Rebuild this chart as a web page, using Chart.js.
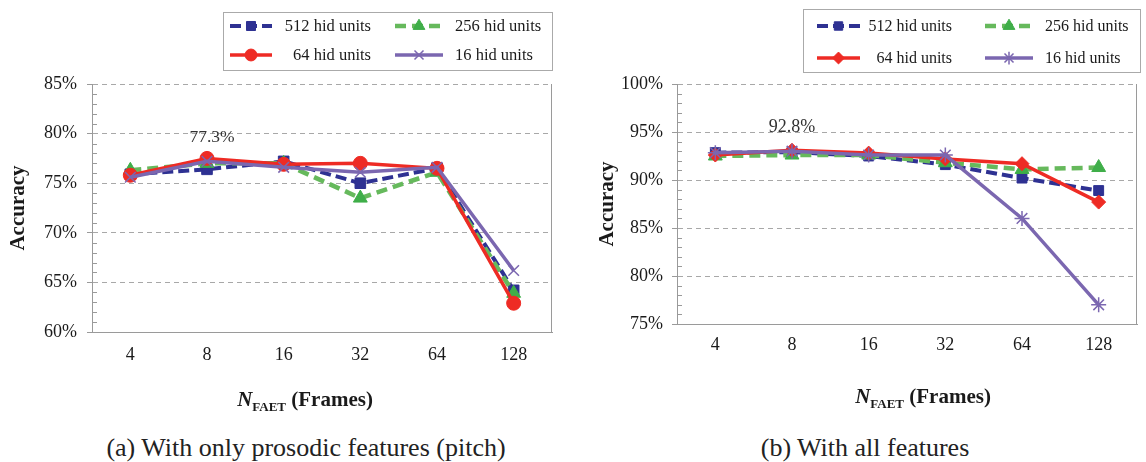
<!DOCTYPE html>
<html>
<head>
<meta charset="utf-8">
<script src="https://cdn.jsdelivr.net/npm/chart.js@4.4.1/dist/chart.umd.min.js"></script>
<style>
  body { margin: 0; background: #fff; width: 1146px; height: 462px; position: relative; overflow: hidden; }
  canvas { position: absolute; top: 0; }
  #chartPitch { left: 0; }
  #chartAll { left: 573px; }
  .cap { position: absolute; top: 435px; font-family: 'Liberation Serif', 'Times New Roman', serif; font-size: 26px;
         line-height: 26px; color: #222; white-space: nowrap; transform: translateX(-50%); }
</style>
</head>
<body>
<canvas id="chartPitch" width="573" height="420"></canvas>
<canvas id="chartAll" width="573" height="420"></canvas>
<div class="cap" style="left:306px">(a) With only prosodic features (pitch)</div>
<div class="cap" style="left:865px">(b) With all features</div>

<script>
// données
const frames = ['4', '8', '16', '32', '64', '128'];
const seriesNames = ['512 hid units', '256 hid units', '64 hid units', '16 hid units'];

// (a) prosodic features only
const pitch512 = [75.9, 76.4, 77.2, 75.0, 76.5, 64.2];
const pitch256 = [76.3, 77.0, 77.0, 73.5, 76.1, 63.9];
const pitch64  = [75.8, 77.5, 76.9, 77.0, 76.5, 62.9];
const pitch16  = [75.6, 77.2, 76.6, 76.1, 76.6, 66.2];

// (b) all features
const all512 = [92.85, 92.9, 92.5, 91.6, 90.2, 88.9];
const all256 = [92.5, 92.6, 92.6, 91.8, 91.1, 91.3];
const all64  = [92.6, 93.1, 92.8, 92.2, 91.7, 87.7];
const all16  = [92.85, 93.0, 92.6, 92.6, 86.0, 77.0];

const yTicksPitch = [60, 65, 70, 75, 80, 85];
const yTicksAll = [75, 80, 85, 90, 95, 100];

const FONT = "'Liberation Serif', 'Times New Roman', serif";

// styles des séries
const estilos = [
  { line: '#2e3192', fill: '#2e3192', width: 4,   dash: [11, 5], order: 3 },
  { line: '#66b95c', fill: '#3fae49', width: 4.5, dash: [11, 6], order: 2 },
  { line: '#ee2b24', fill: '#ee2b24', width: 3.5, dash: [],      order: 1 },
  { line: '#7b67b0', fill: '#7b67b0', width: 3.5, dash: [],      order: 0 }
];

function montaDatasets(valores, pontos) {
  return valores.map((data, i) => ({
    label: seriesNames[i],
    data,
    borderColor: estilos[i].line,
    backgroundColor: estilos[i].fill,
    borderWidth: estilos[i].width,
    borderDash: estilos[i].dash,
    order: estilos[i].order,
    tension: 0,
    pointStyle: pontos[i].style,
    pointRadius: pontos[i].r,
    pointBackgroundColor: estilos[i].fill,
    pointBorderColor: estilos[i].fill,
    pointBorderWidth: pontos[i].bw
  }));
}

// extras: cadre, petites graduations, titres, annotation, légende
const figExtras = {
  id: 'figExtras',
  afterDraw(chart, args, opts) {
    const ctx = chart.ctx;
    const a = chart.chartArea;
    const y = chart.scales.y;
    ctx.save();

    // bord droit
    ctx.strokeStyle = '#9a9a9a';
    ctx.lineWidth = 1;
    ctx.beginPath();
    ctx.moveTo(Math.round(a.right) - 0.5, a.top);
    ctx.lineTo(Math.round(a.right) - 0.5, a.bottom);
    ctx.stroke();

    // graduations mineures (1%)
    ctx.beginPath();
    for (let v = y.min; v <= y.max; v++) {
      if (v % 5 === 0) continue;
      const py = Math.round(y.getPixelForValue(v)) + 0.5;
      ctx.moveTo(a.left, py);
      ctx.lineTo(a.left + 5, py);
    }
    ctx.stroke();

    ctx.fillStyle = '#1a1a1a';

    // titre axe Y
    ctx.save();
    ctx.font = 'bold 21px ' + FONT;
    ctx.translate(opts.yTitleX, (a.top + a.bottom) / 2);
    ctx.rotate(-Math.PI / 2);
    ctx.textAlign = 'center';
    ctx.textBaseline = 'middle';
    ctx.fillText('Accuracy', 0, 0);
    ctx.restore();

    // titre axe X : N_FAET (Frames)
    const partes = [
      { t: 'N', f: 'italic bold 21px ' + FONT, dy: 0 },
      { t: 'FAET', f: 'bold 13px ' + FONT, dy: 5 },
      { t: ' (Frames)', f: 'bold 21px ' + FONT, dy: 0 }
    ];
    let total = 0;
    partes.forEach(p => { ctx.font = p.f; p.w = ctx.measureText(p.t).width; total += p.w; });
    let x0 = opts.xTitleX - total / 2;
    ctx.textAlign = 'left';
    ctx.textBaseline = 'alphabetic';
    partes.forEach(p => {
      ctx.font = p.f;
      ctx.fillText(p.t, x0, opts.xTitleY + p.dy);
      x0 += p.w;
    });

    // annotation de la meilleure valeur
    if (opts.note) {
      const pt = chart.getDatasetMeta(opts.note.ds).data[opts.note.i];
      ctx.font = opts.note.size + 'px ' + FONT;
      ctx.fillStyle = '#333';
      ctx.textAlign = 'center';
      ctx.textBaseline = 'middle';
      ctx.fillText(opts.note.text, pt.x + opts.note.dx, pt.y + opts.note.dy);
    }

    // légende encadrée 2x2
    const lg = opts.legend;
    ctx.strokeStyle = '#aaa';
    ctx.lineWidth = 1;
    ctx.strokeRect(lg.box[0] + 0.5, lg.box[1] + 0.5, lg.box[2], lg.box[3]);
    chart.data.datasets.forEach((ds, i) => {
      const col = lg.cols[i % 2];
      const cy = lg.rows[Math.floor(i / 2)];
      ctx.strokeStyle = ds.borderColor;
      ctx.lineWidth = ds.borderWidth;
      ctx.setLineDash(ds.borderDash || []);
      ctx.beginPath();
      ctx.moveTo(col.x1, cy);
      ctx.lineTo(col.x2, cy);
      ctx.stroke();
      ctx.setLineDash([]);
      ctx.fillStyle = ds.pointBackgroundColor;
      ctx.strokeStyle = ds.pointBorderColor;
      ctx.lineWidth = ds.pointBorderWidth;
      Chart.helpers.drawPoint(ctx, {
        pointStyle: ds.pointStyle,
        rotation: 0,
        radius: ds.pointRadius * 0.85,
        borderWidth: ds.pointBorderWidth
      }, (col.x1 + col.x2) / 2, cy);
      ctx.fillStyle = '#1a1a1a';
      ctx.font = lg.size + 'px ' + FONT;
      ctx.textAlign = col.align;
      ctx.textBaseline = 'middle';
      ctx.fillText(ds.label, col.tx, cy + 1);
    });

    ctx.restore();
  }
};

function criaGrafico(id, datasets, yTicks, extras, lay) {
  return new Chart(document.getElementById(id), {
    type: 'line',
    data: { labels: frames, datasets },
    options: {
      responsive: false,
      animation: false,
      devicePixelRatio: 1,
      layout: { padding: { left: 0, right: lay.right, top: lay.top, bottom: lay.bottom } },
      plugins: {
        legend: { display: false },
        tooltip: { enabled: false },
        figExtras: extras
      },
      scales: {
        x: {
          offset: true,
          grid: { display: false, drawTicks: false },
          border: { display: true, color: '#9a9a9a', width: 1 },
          ticks: { color: '#1a1a1a', font: { family: FONT, size: 18 }, padding: lay.xPad, maxRotation: 0 },
          afterFit(s) { s.height = 40; }
        },
        y: {
          min: yTicks[0],
          max: yTicks[yTicks.length - 1],
          ticks: {
            stepSize: 5,
            color: '#1a1a1a',
            font: { family: FONT, size: 18 },
            padding: lay.yPad,
            callback: v => v + '%'
          },
          grid: { color: '#a8a8a8', lineWidth: 1, tickLength: 5, tickColor: '#9a9a9a', tickBorderDash: [] },
          border: { display: true, color: '#9a9a9a', width: 1, dash: [5, 4] },
          afterFit(s) { s.width = lay.left; }
        }
      }
    },
    plugins: [figExtras]
  });
}

criaGrafico('chartPitch',
  montaDatasets([pitch512, pitch256, pitch64, pitch16], [
    { style: 'rect', r: 7.5, bw: 1 },
    { style: 'triangle', r: 8, bw: 1 },
    { style: 'circle', r: 7, bw: 1 },
    { style: 'crossRot', r: 7.5, bw: 1.5 }
  ]),
  yTicksPitch,
  {
    yTitleX: 19, xTitleX: 305, xTitleY: 406,
    note: { ds: 2, i: 1, text: '77.3%', dx: 5, dy: -21, size: 17.5 },
    legend: {
      box: [223, 12, 329, 58], rows: [26, 55], size: 16.5,
      cols: [{ x1: 230, x2: 272, tx: 371, align: 'right' }, { x1: 395, x2: 443, tx: 455, align: 'left' }]
    }
  },
  { left: 92, right: 21, top: 84, bottom: 48, xPad: 12, yPad: 10 }
);

criaGrafico('chartAll',
  montaDatasets([all512, all256, all64, all16], [
    { style: 'rect', r: 7, bw: 1 },
    { style: 'triangle', r: 8, bw: 1 },
    { style: 'rectRot', r: 7, bw: 1 },
    { style: 'star', r: 7.5, bw: 1.5 }
  ]),
  yTicksAll,
  {
    yTitleX: 35, xTitleX: 350, xTitleY: 403,
    note: { ds: 2, i: 1, text: '92.8%', dx: 0, dy: -23, size: 18 },
    legend: {
      box: [230, 9, 337, 63], rows: [26, 58], size: 16,
      cols: [{ x1: 244, x2: 287, tx: 379, align: 'right' }, { x1: 412, x2: 460, tx: 472, align: 'left' }]
    }
  },
  { left: 104, right: 1, top: 84, bottom: 56, xPad: 10, yPad: 9 }
);
</script>
</body>
</html>
